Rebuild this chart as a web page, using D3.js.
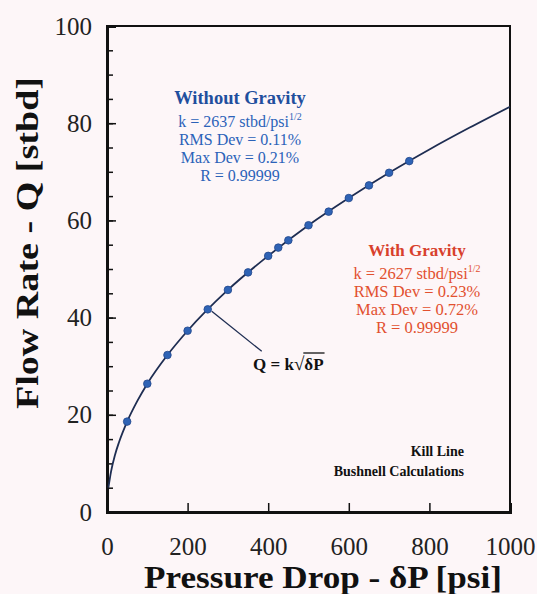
<!DOCTYPE html>
<html>
<head>
<meta charset="utf-8">
<script src="https://cdn.jsdelivr.net/npm/d3@7"></script>
<style>
  body { margin: 0; background: #fdf6f8; }
  svg { display: block; font-family: "Liberation Serif", "Times New Roman", serif; }
</style>
</head>
<body>
<div id="chart"></div>
<script>
// measured points (pressure drop psi, flow rate stbd)
const pointDP = [50, 100, 150, 200, 250, 300, 350, 400, 425, 450, 500, 550, 600, 650, 700, 750];
const pointQ = [18.6, 26.4, 32.3, 37.3, 41.7, 45.7, 49.3, 52.7, 54.4, 55.9, 59.0, 61.8, 64.6, 67.2, 69.8, 72.2];

// fitted curve Q = k*sqrt(dP)
const curveDP = [3.5, 10, 20, 30, 50, 75, 100, 150, 200, 300, 400, 500, 600, 700, 800, 900, 1000];
const curveQ = [5.0, 8.3, 11.8, 14.4, 18.6, 22.8, 26.4, 32.3, 37.3, 45.7, 52.7, 59.0, 64.6, 69.8, 74.6, 79.1, 83.4];

const xTicks = [0, 200, 400, 600, 800, 1000];
const yTicks = [0, 20, 40, 60, 80, 100];
const yMinorTicks = d3.range(0, 101, 5);

const withoutGravity = ["RMS Dev = 0.11%", "Max Dev = 0.21%", "R = 0.99999"];
const withGravity = ["RMS Dev = 0.23%", "Max Dev = 0.72%", "R = 0.99999"];

const width = 537, height = 594;
const margin = { top: 26, right: 27, bottom: 82, left: 107 };
const innerW = width - margin.left - margin.right;
const innerH = height - margin.top - margin.bottom;

const svg = d3.select("#chart").append("svg")
  .attr("width", width)
  .attr("height", height);

svg.append("rect").attr("width", width).attr("height", height).attr("fill", "#fdf6f8");

const x = d3.scaleLinear().domain([0, 1000]).range([0, innerW]);
const y = d3.scaleLinear().domain([0, 100]).range([innerH, 0]);

const g = svg.append("g").attr("transform", `translate(${margin.left},${margin.top})`);

// top and right border
g.append("path")
  .attr("d", `M${x(0)},${y(100)}H${x(1000)}V${y(0)}`)
  .attr("fill", "none").attr("stroke", "#111").attr("stroke-width", 2);

// minor y ticks (inside)
g.append("g")
  .call(d3.axisLeft(y).tickValues(yMinorTicks).tickSize(-6).tickFormat(""))
  .call((a) => a.select(".domain").remove())
  .call((a) => a.selectAll("line").attr("stroke", "#111").attr("stroke-width", 1.5));

// y axis
g.append("g")
  .call(d3.axisLeft(y).tickValues(yTicks).tickSize(-9).tickPadding(15))
  .call((a) => a.select(".domain").attr("stroke", "#111").attr("stroke-width", 3))
  .call((a) => a.selectAll("line").attr("stroke", "#111").attr("stroke-width", 1.5))
  .call((a) => a.selectAll("text")
    .attr("font-family", "Liberation Serif").attr("font-size", 25).attr("fill", "#222"));

// x axis
g.append("g")
  .attr("transform", `translate(0,${innerH})`)
  .call(d3.axisBottom(x).tickValues(xTicks).tickSize(-9).tickPadding(25).tickFormat(d3.format("d")))
  .call((a) => a.select(".domain").attr("stroke", "#111").attr("stroke-width", 3))
  .call((a) => a.selectAll("line").attr("stroke", "#111").attr("stroke-width", 1.5))
  .call((a) => a.selectAll("text")
    .attr("font-family", "Liberation Serif").attr("font-size", 25).attr("fill", "#222"));

// axis titles
svg.append("text")
  .attr("x", 323).attr("y", 588)
  .attr("text-anchor", "middle")
  .attr("font-size", 31).attr("font-weight", "bold").attr("fill", "#111")
  .attr("textLength", 358).attr("lengthAdjust", "spacingAndGlyphs")
  .text("Pressure Drop - δP [psi]");

svg.append("text")
  .attr("transform", "translate(38,243) rotate(-90)")
  .attr("text-anchor", "middle")
  .attr("font-size", 31).attr("font-weight", "bold").attr("fill", "#111")
  .attr("textLength", 332).attr("lengthAdjust", "spacingAndGlyphs")
  .text("Flow Rate - Q [stbd]");

// fitted curve
const curveData = curveDP.map((d, i) => ({ dp: d, q: curveQ[i] }));
const line = d3.line()
  .x((d) => x(d.dp))
  .y((d) => y(d.q))
  .curve(d3.curveMonotoneX);

g.append("path")
  .datum(curveData)
  .attr("d", line)
  .attr("fill", "none")
  .attr("stroke", "#1e2d52")
  .attr("stroke-width", 1.8);

// measured points
const pts = pointDP.map((d, i) => ({ dp: d, q: pointQ[i] }));
g.selectAll("circle.pt")
  .data(pts)
  .join("circle")
  .attr("class", "pt")
  .attr("cx", (d) => x(d.dp))
  .attr("cy", (d) => y(d.q))
  .attr("r", 3.8)
  .attr("fill", "#2f63b5")
  .attr("stroke", "#22468a")
  .attr("stroke-width", 0.8);

// leader line to the equation
g.append("line")
  .attr("x1", x(250) + 4).attr("y1", y(41.7) + 2)
  .attr("x2", x(250) + 54).attr("y2", y(41.7) + 42)
  .attr("stroke", "#1e2d52").attr("stroke-width", 1.3);

// equation Q = k sqrt(dP)
const eqX = 253;
const eq = svg.append("text")
  .attr("x", eqX).attr("y", 370)
  .attr("font-size", 17).attr("font-weight", "bold").attr("fill", "#111");
eq.append("tspan").text("Q = k");
eq.append("tspan").attr("font-weight", "normal").attr("font-size", 19).text("√");
eq.append("tspan").text("δP");
const eqNode = eq.node();
const startBar = eqX + eqNode.getSubStringLength(0, 6) - 1;
const endBar = eqX + eqNode.getComputedTextLength() + 1;
svg.append("line")
  .attr("x1", startBar).attr("x2", endBar)
  .attr("y1", 353).attr("y2", 353)
  .attr("stroke", "#111").attr("stroke-width", 1.3);

// annotation blocks
function block(cx, y0, title, k, rows, titleSize, rowSize, titleColor, color) {
  const b = svg.append("g").attr("text-anchor", "middle");
  b.append("text")
    .attr("x", cx).attr("y", y0)
    .attr("font-size", titleSize).attr("font-weight", "bold").attr("fill", titleColor)
    .text(title);
  const kt = b.append("text")
    .attr("x", cx).attr("y", y0 + 23)
    .attr("font-size", rowSize).attr("fill", color);
  kt.append("tspan").text(`k = ${k} stbd/psi`);
  kt.append("tspan").attr("font-size", 10).attr("dy", -7).text("1/2");
  b.selectAll("text.row")
    .data(rows)
    .join("text")
    .attr("class", "row")
    .attr("x", cx)
    .attr("y", (d, i) => y0 + 41 + i * 18)
    .attr("font-size", rowSize).attr("fill", color)
    .text((d) => d);
}

block(240, 104, "Without Gravity", 2637, withoutGravity, 18.5, 16, "#1f4f9e", "#2b62b8");
block(417, 256, "With Gravity", 2627, withGravity, 17, 16.5, "#d8402c", "#e2502f");

// source note
const note = svg.append("g").attr("text-anchor", "end")
  .attr("font-size", 14).attr("font-weight", "bold").attr("fill", "#111");
note.append("text").attr("x", 464).attr("y", 456).text("Kill Line");
note.append("text").attr("x", 464).attr("y", 476).text("Bushnell Calculations");
</script>
</body>
</html>
